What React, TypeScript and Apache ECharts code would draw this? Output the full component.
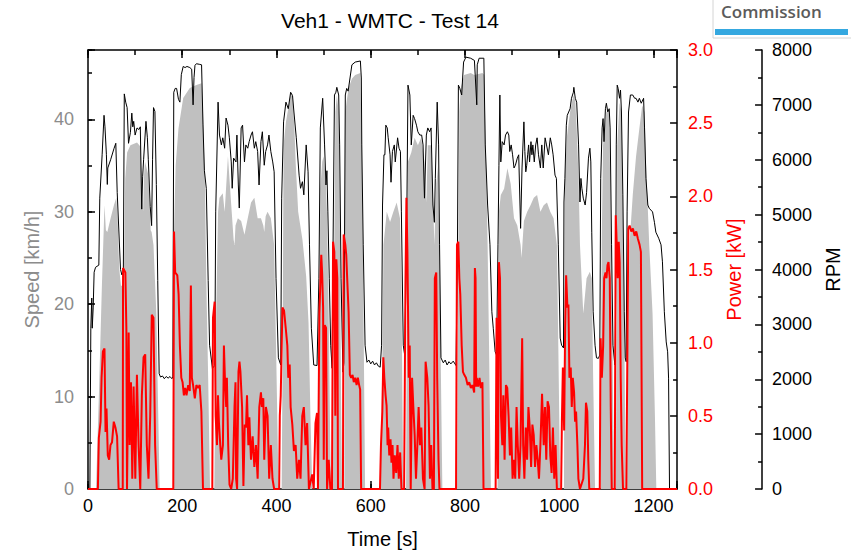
import React, { useEffect, useRef } from "react";
import * as echarts from "echarts";

// Time [s] vs speed [km/h]
const speedData: [number, number][] = [
  [0, 0], [17, 0], [23, 10], [29.5, 22], [35, 30.7], [38, 28], [41, 27.8], [48, 29.3], [55, 30.7], [60, 31.5],
  [63, 29], [66, 24], [70, 22], [73, 22], [76, 22.8], [79, 33.6], [83, 36.4], [90, 37.2], [104, 37.5], [112, 37],
  [114, 33], [117, 30], [119, 34], [121, 35.4], [128, 34], [131, 30.7], [133, 28], [135, 27.8], [139, 26.4], [145, 19],
  [149, 8.3], [152, 0], [181, 0], [182.5, 28], [186, 35], [192, 39], [202, 42.3], [216, 43.4], [230, 43.7], [241, 43.9],
  [244, 41], [248, 33.6], [251, 22.8], [255, 12], [259, 0], [268, 0], [272, 19], [276, 30], [279, 31.5], [286, 32],
  [290, 30], [297, 36], [304, 30.7], [309, 27], [311, 26.4], [313, 28.5], [318, 29.3], [325, 29], [332, 27.5], [339, 29.3],
  [346, 31], [353, 31.5], [360, 29.3], [367, 29.3], [372, 28.5], [374, 27.8], [377, 29.5], [381, 30], [388, 29.3], [395, 26.4],
  [399, 15.6], [403, 4], [404, 0], [411, 0], [413, 15], [415, 37.2], [420, 39.7], [427, 41.8], [430, 42.9], [434, 42.5],
  [438, 39], [441, 35], [446, 30], [455, 27], [463, 23], [468, 18], [472, 8], [476, 0], [488, 0], [490, 10],
  [493, 32.5], [497, 35.4], [500, 36], [504, 34], [507, 30], [511, 18], [514, 5], [516, 0], [520, 0], [522, 22.8],
  [525, 40.8], [528, 42.6], [532, 40.8], [535, 26.4], [537, 10], [539, 0], [544, 0], [546, 40.8], [549, 42], [553, 43.4],
  [560, 44.4], [567, 44.8], [578, 45], [581, 37.2], [584, 22.8], [588, 0], [621, 0], [625, 15.6], [627, 26.4], [634, 30],
  [641, 28.9], [648, 30], [655, 31], [662, 29.3], [665, 22.8], [669, 0], [675, 0], [677, 22.8], [679, 35.4], [686, 36.4],
  [693, 38], [700, 37.2], [707, 38], [714, 35.4], [718, 31], [721, 37.2], [728, 37.2], [732, 31.8], [735, 26.4], [739, 33],
  [743, 35], [747, 20], [752, 0], [783, 0], [786, 26.4], [788, 40.8], [791, 43.4], [798, 44.8], [812, 45], [820, 44.8],
  [837, 45], [841, 44.8], [844, 37.2], [848, 26.4], [851, 15.6], [855, 0], [869, 0], [871, 15], [872, 30], [876, 31.8],
  [883, 32.5], [890, 34.7], [897, 33], [904, 29.3], [911, 28.5], [918, 26.4], [920, 25], [925, 29], [932, 30], [939, 30.7],
  [946, 31.5], [953, 31.8], [960, 30], [967, 30.7], [974, 31], [981, 30], [988, 29.3], [995, 26.4], [998, 15.6], [1002, 0],
  [1010, 0], [1011, 19], [1012, 33.6], [1016, 38], [1023, 40.8], [1030, 42.6], [1034, 42], [1037, 39], [1041, 33.6], [1044, 26.4],
  [1051, 19], [1058, 22.8], [1065, 23.5], [1069, 22.8], [1072, 12], [1076, 0], [1088, 0], [1090, 26.4], [1093, 37.2], [1100, 40.8],
  [1106, 40.8], [1108, 33.6], [1113, 15.6], [1116, 0], [1120, 0], [1122, 19], [1123, 37.2], [1128, 41.8], [1132, 40.8], [1135, 30],
  [1139, 12], [1141, 0], [1144, 0], [1146, 15.6], [1149, 26.4], [1156, 31.8], [1163, 36], [1170, 39], [1176, 41.5], [1181, 40.8],
  [1184, 35.4], [1191, 26.4], [1198, 19], [1203, 8], [1206, 0], [1250, 0],
];

// Time [s] vs engine speed [RPM]
const rpmData: [number, number][] = [
  [0, 0], [4, 0], [6, 2930], [8, 3480], [9, 2930], [11, 3300], [13, 3950], [16, 4040], [23, 4080], [25, 5300],
  [30, 6090], [34, 6810], [36, 6600], [39, 6100], [41, 5550], [42, 5850], [48, 6000], [55, 6200], [59, 6300], [62, 5400],
  [69, 4000], [72, 3900], [75, 3950], [77, 7200], [80, 7050], [83, 6950], [86, 6300], [90, 6500], [93, 6850], [95, 6600],
  [97, 6700], [100, 6450], [104, 6580], [108, 6550], [111, 6600], [114, 5100], [116, 5700], [118, 6000], [123, 6700], [126, 6400],
  [128, 6000], [132, 5150], [135, 4800], [137, 6000], [139, 6950], [142, 6880], [145, 5550], [148, 3800], [151, 2100], [154, 2040],
  [158, 2060], [162, 2010], [166, 2050], [170, 2020], [174, 2050], [178, 2010], [180, 2040], [182, 7230], [185, 7300], [188, 7300],
  [192, 7100], [195, 7050], [198, 7550], [202, 7700], [206, 7680], [210, 7700], [216, 7680], [220, 7650], [223, 7000], [225, 7500],
  [227, 7720], [230, 7750], [236, 7740], [241, 7730], [244, 6650], [247, 5800], [251, 5480], [255, 3800], [258, 2620], [264, 2200],
  [269, 2250], [271, 5050], [276, 7050], [279, 6450], [283, 6270], [286, 6400], [290, 6210], [293, 6760], [297, 6630], [300, 6400],
  [304, 5960], [306, 5480], [309, 6030], [314, 5960], [316, 6450], [319, 5540], [321, 5120], [325, 6580], [328, 6630], [332, 5960],
  [335, 6270], [339, 6210], [342, 6330], [346, 6450], [349, 6510], [353, 6210], [356, 6330], [360, 6150], [363, 5540], [367, 6330],
  [370, 6510], [374, 5900], [377, 6150], [381, 6270], [384, 6450], [388, 6150], [392, 5960], [395, 5780], [399, 3840], [404, 2390],
  [409, 2260], [411, 5300], [415, 6690], [420, 7050], [425, 6930], [430, 7230], [434, 7170], [437, 6870], [442, 6400], [448, 5720],
  [451, 5480], [455, 5600], [458, 5360], [463, 6270], [467, 5780], [470, 4450], [474, 2930], [479, 2260], [486, 2250], [490, 3840],
  [493, 6580], [498, 7120], [502, 6270], [505, 5540], [507, 5800], [509, 5050], [512, 3840], [515, 2620], [518, 2200], [520, 4450],
  [523, 7180], [526, 7230], [528, 7320], [532, 7180], [534, 6270], [537, 3840], [541, 2130], [543, 2300], [546, 7180], [549, 7300],
  [552, 7250], [556, 7490], [560, 7730], [567, 7780], [578, 7800], [580, 7490], [581, 6270], [584, 4450], [588, 2620], [592, 2310],
  [596, 2350], [600, 2280], [604, 2330], [608, 2260], [612, 2300], [616, 2240], [620, 2220], [623, 2620], [625, 5175], [628, 6090],
  [630, 6090], [632, 6630], [635, 6580], [637, 6400], [641, 6090], [643, 5590], [646, 6150], [650, 6270], [652, 5960], [657, 6400],
  [660, 6210], [663, 6150], [665, 5050], [669, 2620], [672, 2440], [676, 4450], [679, 7360], [683, 7180], [686, 6270], [690, 6810],
  [693, 6750], [697, 6630], [700, 6510], [704, 6450], [708, 6450], [711, 6270], [714, 5300], [718, 6450], [721, 6580], [725, 6510],
  [728, 6580], [732, 5175], [735, 4860], [737, 5660], [741, 7050], [744, 6270], [746, 4450], [749, 2390], [754, 2300], [758, 2350],
  [762, 2260], [766, 2320], [770, 2280], [775, 2330], [781, 2250], [784, 4450], [786, 7360], [789, 7300], [793, 7180], [795, 7490],
  [797, 7780], [802, 7870], [812, 7850], [820, 7810], [822, 7490], [825, 7000], [826, 7730], [830, 7850], [840, 7850], [843, 6270],
  [848, 5175], [853, 4450], [857, 3230], [860, 2930], [864, 2500], [867, 2440], [870, 4450], [872, 5900], [874, 7180], [876, 5960],
  [879, 6330], [883, 6270], [886, 6450], [890, 6510], [893, 6450], [895, 6150], [898, 6270], [901, 6090], [904, 5850], [907, 5900],
  [911, 6030], [914, 6090], [918, 4750], [921, 5850], [925, 6690], [927, 6150], [929, 5780], [931, 5900], [933, 6090], [935, 6270],
  [937, 5960], [940, 6330], [942, 6090], [944, 6270], [947, 5960], [950, 6270], [953, 6400], [956, 6090], [960, 5850], [963, 6270],
  [966, 5850], [970, 6400], [973, 6270], [977, 6090], [981, 6400], [984, 6270], [987, 6090], [991, 5720], [994, 5660], [998, 4450],
  [1002, 2750], [1005, 2620], [1009, 2570], [1010, 5230], [1012, 5660], [1015, 6630], [1017, 6810], [1020, 6870], [1023, 6930], [1026, 7120],
  [1030, 7230], [1031, 7320], [1034, 7120], [1037, 7050], [1041, 6270], [1044, 5230], [1046, 5660], [1048, 5480], [1051, 5300], [1055, 5175],
  [1058, 5400], [1062, 6030], [1065, 6210], [1067, 5960], [1069, 4680], [1072, 3230], [1076, 2620], [1079, 2390], [1083, 2380], [1086, 2440],
  [1088, 5660], [1091, 6580], [1093, 6750], [1095, 6330], [1098, 6930], [1100, 7030], [1103, 6870], [1106, 6930], [1108, 6580], [1111, 4450],
  [1114, 2620], [1118, 2260], [1119, 2300], [1121, 6270], [1123, 7360], [1125, 7300], [1128, 7120], [1130, 7270], [1132, 6870], [1135, 5360],
  [1138, 3230], [1140, 2390], [1142, 2320], [1144, 5050], [1147, 6870], [1151, 7180], [1156, 7180], [1160, 7120], [1163, 7120], [1167, 7050],
  [1170, 7120], [1174, 7030], [1179, 7120], [1181, 6580], [1184, 5660], [1188, 5175], [1191, 5115], [1198, 5050], [1202, 4860], [1205, 4680],
  [1211, 4570], [1216, 4450], [1219, 4140], [1223, 3230], [1227, 2680], [1230, 2500], [1232, 2020], [1234, 0], [1250, 0],
];

// Time [s] vs power [kW]
const powerData: [number, number][] = [
  [0, 0], [21, 0], [23, 0.35], [26.7, 0.46], [28.8, 0.76], [31.6, 0.94], [35, 0.96], [37.2, 0.39], [39.3, 0.55], [42, 0.23],
  [44.9, 0.2], [47.7, 0.3], [51, 0.32], [54.7, 0.46], [58.2, 0.42], [61.7, 0.36], [65, 0], [73.7, 0], [74.4, 1.51], [79.3, 1.48],
  [81.4, 1.1], [82.8, 0], [86.3, 1.07], [88.4, 0.3], [91.2, 0.73], [94, 0.07], [96.8, 0.7], [100.4, 0.07], [103.8, 0.78], [107.4, 0.3],
  [110.9, 0], [114.3, 0.64], [117.9, 0.9], [121.4, 0.92], [124.8, 0.3], [128.4, 0.07], [132, 0.5], [135.3, 1.19], [138.9, 1.17], [142.4, 0.3],
  [145.9, 0], [181, 0], [182.5, 1.76], [185, 1.48], [189.5, 1.46], [192.3, 1.33], [195, 0.98], [198, 0.76], [200.7, 0.73], [203.5, 0.64],
  [206.3, 0.69], [209, 0.64], [212.6, 0.71], [216, 0.67], [218.3, 1.39], [220.4, 0.76], [223, 0.71], [226.7, 0.62], [230, 0.71], [233.6, 0.69],
  [237, 0.71], [240.6, 0.53], [244, 0], [263.8, 0], [265.2, 1.17], [268.8, 1.28], [270.9, 0.5], [273.7, 0.3], [275.8, 0.64], [277.9, 0.45],
  [280.7, 0.3], [282.8, 0.2], [286.3, 0.3], [288.4, 0.98], [290.5, 0.76], [293.3, 0.56], [294.7, 0.76], [297.5, 0.3], [300.3, 0.03], [303.8, 0],
  [307.3, 0.07], [310.9, 0.56], [313, 0.73], [314.3, 0.07], [316.4, 0], [319.3, 0.8], [321.4, 0.87], [323.5, 0.8], [327, 0.56], [329.8, 0.02],
  [332.6, 0.44], [335.3, 0.42], [337.4, 0.64], [340.3, 0.3], [342.4, 0.49], [345.9, 0.2], [349.4, 0.36], [353, 0.15], [356.4, 0.3], [360, 0.07],
  [363.5, 0.56], [367, 0.66], [369, 0.56], [372, 0.62], [374, 0.2], [377.5, 0.56], [381, 0.5], [384.5, 0.07], [388, 0.3], [391.5, 0.07],
  [395, 0], [405.6, 0], [407, 0.5], [409, 0.64], [412.6, 1.24], [416, 1.22], [419.6, 1.1], [423, 0.98], [425, 0.76], [428, 0.85],
  [430, 0.56], [433.6, 0.44], [437, 0.26], [440.6, 0.3], [444, 0.07], [447.7, 0.2], [451, 0.07], [454.7, 0.5], [458, 0.56], [461.6, 0.3],
  [465, 0.45], [468.8, 0], [475.7, 0.1], [479, 0], [482.7, 0.45], [486, 0.52], [488, 0], [491, 1.2], [495, 1.6], [496.8, 1.48],
  [498.9, 1.24], [500.3, 0.2], [502.4, 1.12], [505.2, 1.1], [507.3, 0], [510.8, 0.2], [514.3, 0], [517.8, 0], [520, 1.69], [522.7, 1.62],
  [524.8, 0.5], [527, 1.57], [529, 1.44], [530.5, 0], [541, 0], [542.5, 1.74], [546, 1.67], [548, 1.6], [550, 1.44], [553, 1.21],
  [555.7, 0.78], [558.5, 0.76], [561.4, 0.78], [564, 0.73], [567, 0.76], [570, 0.71], [572.6, 0.76], [575.4, 0.71], [577.5, 0.68], [579.6, 0],
  [619.6, 0], [621.7, 0.3], [624.6, 0.53], [626.7, 0.9], [628.8, 0.76], [631.5, 0.64], [633.6, 0.57], [635.7, 0.3], [637, 0.42], [639.3, 0.23],
  [642, 0.34], [644, 0.18], [646.2, 0.3], [648.3, 0.07], [651, 0.23], [654, 0.11], [656.8, 0.3], [659.5, 0.07], [662.4, 0.25], [665.2, 0],
  [670.8, 0], [673.6, 1.39], [675.7, 1.99], [677.8, 1.62], [680.6, 0.76], [682.7, 0.98], [684.8, 0], [687.7, 0.76], [690.4, 0.56], [693.2, 0.37],
  [696, 0.07], [698.9, 0.3], [701.6, 0.56], [704.5, 0.3], [707.3, 0.42], [710.8, 0.07], [714.3, 0], [716.4, 0.87], [720, 0.76], [722.7, 0.57],
  [725.6, 0.07], [728.3, 0.3], [731, 0], [734, 0], [736, 1.44], [739, 1.48], [741, 0.76], [743.8, 0.2], [745.8, 0], [781, 0],
  [783, 1.67], [785.8, 1.69], [788, 1.44], [790, 1.33], [793, 0.98], [795.7, 0.8], [798.5, 0.78], [802, 0.76], [805.6, 0.71], [809, 0.73],
  [812.5, 0.69], [816, 0.71], [819.5, 0.66], [821, 1.51], [822.4, 1.44], [823.7, 0.7], [825, 0.76], [828, 0.7], [830.8, 0.76], [833.6, 0.69],
  [837, 0.73], [839.3, 0], [865, 0], [867, 1.17], [870, 0.07], [872, 1.55], [874.3, 1.44], [876.4, 0.5], [879.2, 0.3], [881.3, 0.64],
  [884, 0.2], [886.9, 0.71], [889.7, 0.69], [892.5, 0.5], [895.3, 0.23], [898, 0.42], [901, 0.07], [903.7, 0.2], [906.6, 0.07], [909.4, 0.56],
  [912, 0.3], [915, 0.07], [917.8, 0.3], [921.3, 1.03], [923.4, 0.3], [926, 0.07], [929, 0.42], [931.8, 0.2], [934.6, 0.56], [937.4, 0.42],
  [940.3, 0.15], [943, 0.44], [945.8, 0.37], [948.7, 0.15], [951.5, 0.3], [954.3, 0.2], [957, 0.07], [960, 0.3], [963.5, 0.65], [967, 0.3],
  [969.7, 0.56], [972.5, 0.2], [975.3, 0.6], [978.2, 0.56], [981, 0.23], [983.8, 0.11], [986.6, 0.42], [989.4, 0.07], [992.2, 0.3], [995, 0],
  [1004, 0], [1005.6, 0.46], [1007.7, 0.83], [1010.4, 0.4], [1012.5, 1.1], [1014.6, 1.46], [1017.4, 1.24], [1019.5, 1.26], [1021.6, 0.76], [1024.4, 0.83],
  [1026.6, 0.56], [1028.7, 0.76], [1031.5, 0.66], [1033.6, 0.46], [1035.7, 0.53], [1038.5, 0.3], [1040.6, 0.07], [1044, 0], [1051, 0.07], [1054.6, 0.3],
  [1056.7, 0.59], [1059.5, 0.53], [1061.6, 0.2], [1063.7, 0], [1086, 0], [1087.7, 1.03], [1090.4, 0.76], [1093.2, 0.98], [1095.3, 1.44], [1098.2, 1.48],
  [1100.3, 1.44], [1102.4, 1.53], [1104.5, 1.55], [1107.2, 1.44], [1109.3, 0.56], [1111.4, 0], [1117.8, 0], [1119.9, 1.87], [1122, 1.67], [1124.1, 1.44],
  [1126.2, 1.69], [1128.3, 1.55], [1130.4, 0.76], [1132.5, 0.3], [1135.3, 0], [1142.4, 0], [1144.5, 0.9], [1146.6, 1.78], [1149.3, 1.8], [1152.9, 1.76],
  [1156.3, 1.78], [1160, 1.73], [1163.4, 1.76], [1166.9, 1.71], [1170.4, 1.67], [1173.3, 1.62], [1176, 0], [1250, 0],
];

const FONT = "'Liberation Sans', Arial, sans-serif";

export default function App() {
  const ref = useRef<HTMLDivElement>(null);

  useEffect(() => {
    document.body.style.margin = "0";
    if (!ref.current) return;
    const chart = echarts.init(ref.current, undefined, { renderer: "svg" });

    const baseX = {
      type: "value" as const,
      min: 0,
      max: 1250,
      splitLine: { show: false },
    };
    const axisLineBlack = { show: true, onZero: false, lineStyle: { color: "#000", width: 1.5 } };
    const tickStyle = { color: "#000", width: 1.5 };

    chart.setOption({
      animation: false,
      backgroundColor: "#fff",
      textStyle: { fontFamily: FONT },
      title: {
        text: "Veh1 - WMTC - Test 14",
        left: 385,
        textAlign: "center",
        top: 5,
        textStyle: { fontFamily: FONT, fontSize: 21, fontWeight: "normal", color: "#000" },
      },
      grid: { left: 88, right: 169, top: 50, bottom: 65 },
      xAxis: [
        {
          ...baseX,
          position: "bottom",
          interval: 200,
          axisLine: axisLineBlack,
          axisTick: { show: true, inside: true, length: 8, lineStyle: tickStyle },
          axisLabel: {
            fontSize: 18,
            color: "#000",
            margin: 8,
            fontFamily: FONT,
            formatter: (v: number) => (v % 200 === 0 ? String(v) : ""),
          },
          name: "Time [s]",
          nameLocation: "middle",
          nameGap: 40,
          nameTextStyle: { fontSize: 20, color: "#000", fontFamily: FONT },
        },
        {
          ...baseX,
          position: "bottom",
          interval: 100,
          axisLine: { show: false, onZero: false },
          axisTick: { show: true, inside: true, length: 5, lineStyle: tickStyle },
          axisLabel: { show: false },
        },
        {
          ...baseX,
          position: "top",
          interval: 200,
          axisLine: axisLineBlack,
          axisTick: { show: true, inside: true, length: 8, lineStyle: tickStyle },
          axisLabel: { show: false },
        },
        {
          ...baseX,
          position: "top",
          interval: 100,
          axisLine: { show: false, onZero: false },
          axisTick: { show: true, inside: true, length: 5, lineStyle: tickStyle },
          axisLabel: { show: false },
        },
      ],
      yAxis: [
        {
          type: "value",
          position: "left",
          min: 0,
          max: 47.5,
          interval: 10,
          splitLine: { show: false },
          axisLine: axisLineBlack,
          axisTick: { show: true, inside: true, length: 7, lineStyle: tickStyle },
          axisLabel: {
            fontSize: 18,
            color: "#8c8c8c",
            margin: 14,
            fontFamily: FONT,
            formatter: (v: number) => (v % 10 === 0 ? String(v) : ""),
          },
          name: "Speed [km/h]",
          nameLocation: "middle",
          nameGap: 46,
          nameTextStyle: { fontSize: 20, color: "#8c8c8c", fontFamily: FONT },
        },
        {
          type: "value",
          position: "right",
          min: 0,
          max: 3,
          interval: 0.5,
          splitLine: { show: false },
          axisLine: axisLineBlack,
          axisTick: { show: true, inside: true, length: 7, lineStyle: tickStyle },
          minorTick: { show: true, splitNumber: 2, length: 4, lineStyle: tickStyle },
          minorSplitLine: { show: false },
          axisLabel: {
            fontSize: 18,
            color: "#ff0000",
            margin: 11,
            fontFamily: FONT,
            formatter: (v: number) => v.toFixed(1),
          },
          name: "Power [kW]",
          nameLocation: "middle",
          nameGap: 40,
          nameTextStyle: { fontSize: 20, color: "#ff0000", fontFamily: FONT },
        },
        {
          type: "value",
          position: "right",
          offset: 85,
          min: 0,
          max: 8000,
          interval: 1000,
          splitLine: { show: false },
          axisLine: axisLineBlack,
          axisTick: { show: true, inside: true, length: 7, lineStyle: tickStyle },
          minorTick: { show: true, splitNumber: 2, length: 4, lineStyle: tickStyle },
          minorSplitLine: { show: false },
          axisLabel: {
            fontSize: 18,
            color: "#000",
            margin: 10,
            fontFamily: FONT,
            formatter: (v: number) => String(v),
          },
          name: "RPM",
          nameLocation: "middle",
          nameGap: 56,
          nameTextStyle: { fontSize: 20, color: "#000", fontFamily: FONT },
        },
        {
          type: "value",
          position: "left",
          min: 0,
          max: 47.5,
          interval: 5,
          splitLine: { show: false },
          axisLine: { show: false, onZero: false },
          axisTick: { show: true, inside: true, length: 4, lineStyle: tickStyle },
          axisLabel: { show: false },
        },
      ],
      graphic: [
        {
          type: "rect",
          shape: { x: 713, y: -2, width: 140, height: 40 },
          style: { fill: "#fff", stroke: "#d4d4d4", lineWidth: 1 },
          z: 10,
        },
        {
          type: "text",
          x: 721,
          y: 3,
          style: {
            text: "Commission",
            fill: "#5b5b5b",
            font: `600 17px 'Open Sans', ${FONT}`,
          },
          z: 11,
        },
        {
          type: "rect",
          shape: { x: 715, y: 29, width: 133, height: 6 },
          style: { fill: "#35a8e0" },
          z: 11,
        },
      ],
      series: [
        {
          name: "Speed",
          type: "line",
          xAxisIndex: 0,
          yAxisIndex: 0,
          data: speedData,
          showSymbol: false,
          symbol: "none",
          lineStyle: { width: 0, opacity: 0 },
          areaStyle: { color: "#c0c0c0", opacity: 1 },
          z: 1,
        },
        {
          name: "RPM",
          type: "line",
          xAxisIndex: 0,
          yAxisIndex: 2,
          data: rpmData,
          showSymbol: false,
          symbol: "none",
          lineStyle: { color: "#000", width: 1 },
          z: 2,
        },
        {
          name: "Power",
          type: "line",
          xAxisIndex: 0,
          yAxisIndex: 1,
          data: powerData,
          showSymbol: false,
          symbol: "none",
          lineStyle: { color: "#ff0000", width: 2 },
          z: 3,
        },
      ],
    });

    return () => chart.dispose();
  }, []);

  return (
    <div
      ref={ref}
      style={{ position: "absolute", left: 0, top: 0, width: 851, height: 554 }}
    />
  );
}
